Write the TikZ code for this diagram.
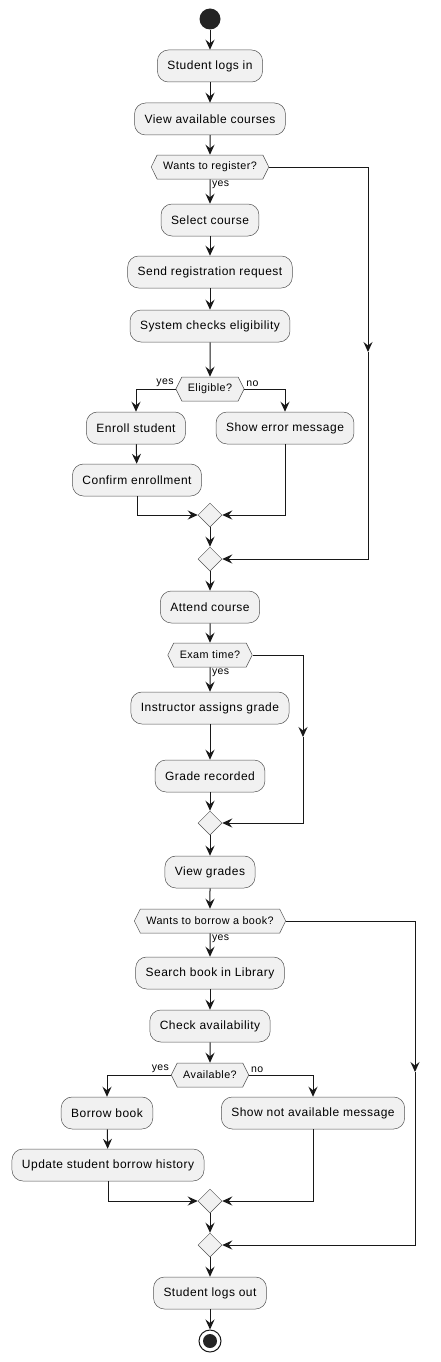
\documentclass[tikz,border=0pt]{standalone}
\usepackage{fontspec}
\setmainfont{Liberation Sans}[LetterSpace=4]
\usetikzlibrary{arrows.meta,shapes.geometric,shapes.symbols}
\definecolor{actfill}{HTML}{F1F1F1}
\definecolor{actline}{HTML}{181818}
\tikzset{
  action/.style={draw=actline!75, line width=0.5pt, fill=actfill, rounded corners=11pt,
    minimum height=32pt, inner xsep=10pt, font=\fontsize{12}{14}\selectfont},
  test/.style={draw=actline!75, line width=0.5pt, fill=actfill, shape=signal,
    signal to=west and east, signal pointer angle=127, minimum height=24pt,
    inner xsep=6pt, inner ysep=2pt, font=\fontsize{10.8}{12}\selectfont},
  merge/.style={draw=actline!75, line width=0.5pt, fill=actfill, diamond,
    minimum width=24pt, minimum height=24pt, inner sep=0pt},
  flow/.style={line width=1pt, draw=actline, -{Stealth[length=10pt,width=9pt,inset=3.5pt]}},
  guard/.style={font=\fontsize{10.5}{12}\selectfont, inner sep=1.5pt},
}

\begin{document}
\begin{tikzpicture}[x=1pt,y=-1pt]
  \useasboundingbox (0,0) rectangle (441,1362);

  \node [circle, fill=actline!95, minimum size=21pt, inner sep=0pt] (start) at (210,19) {};

  \node [action] (login)   at (210,66)  {Student logs in};
  \node [action] (courses) at (210,119) {View available courses};
  \node [test]   (reg)     at (210,167) {Wants to register?};
  \node [action] (select)  at (210,220) {Select course};
  \node [action] (send)    at (210,272) {Send registration request};
  \node [action] (check)   at (210,326) {System checks eligibility};
  \node [test]   (elig)    at (210,389) {Eligible?};
  \node [action] (enroll)  at (136,428) {Enroll student};
  \node [action] (confirm) at (137,480) {Confirm enrollment};
  \node [action] (error)   at (285,428) {Show error message};
  \node [merge]  (m1)      at (210,515) {};
  \node [merge]  (m2)      at (210,559) {};

  \node [action] (attend)  at (210,607) {Attend course};
  \node [test]   (exam)    at (210,655) {Exam time?};
  \node [action] (assign)  at (210,708) {Instructor assigns grade};
  \node [action] (record)  at (210,776) {Grade recorded};
  \node [merge]  (m3)      at (210,823) {};

  \node [action] (grades)  at (210,872)  {View grades};
  \node [test]   (borrowq) at (210,921)  {Wants to borrow a book?};
  \node [action] (search)  at (210,973)  {Search book in Library};
  \node [action] (avail)   at (210,1026) {Check availability};
  \node [test]   (availq)  at (210,1075) {Available?};
  \node [action] (borrow)  at (107,1113) {Borrow book};
  \node [action] (history) at (108,1165) {Update student borrow history};
  \node [action] (notav)   at (313,1113) {Show not available message};
  \node [merge]  (m4)      at (210,1201) {};
  \node [merge]  (m5)      at (210,1245) {};
  \node [action] (logout)  at (210,1293) {Student logs out};

  \node [circle, draw=actline, line width=1pt, fill=white, minimum size=22pt, inner sep=0pt] (stop) at (210,1341) {};
  \node [circle, fill=actline!95, minimum size=14pt, inner sep=0pt] (stopdot) at (stop) {};

  % skip lanes on the right
  \coordinate (skip1) at (368,167);  \coordinate (skip1mid) at (368,352);
  \coordinate (skip2) at (303,655);  \coordinate (skip2mid) at (303,737);
  \coordinate (skip3) at (415,921);  \coordinate (skip3mid) at (415,1072);

  \foreach \a/\b in {start/login, login/courses, courses/reg, select/send, send/check,
    check/elig, enroll/confirm, m1/m2, m2/attend, attend/exam, assign/record, record/m3,
    m3/grades, grades/borrowq, search/avail, avail/availq, borrow/history, m4/m5,
    m5/logout, logout/stop}
  {
    \draw [flow] (\a) -- (\b);
  }

  \draw [flow] (reg) -- node [guard, anchor=north west, pos=0] {yes} (select);
  \draw [flow] (exam) -- node [guard, anchor=north west, pos=0] {yes} (assign);
  \draw [flow] (borrowq) -- node [guard, anchor=north west, pos=0] {yes} (search);

  \draw [flow] (elig.west) -| node [guard, anchor=south east, pos=0] {yes} (enroll);
  \draw [flow] (elig.east) -| node [guard, anchor=south west, pos=0] {no} (error);
  \draw [flow] (confirm) |- (m1.west);
  \draw [flow] (error) |- (m1.east);

  \draw [flow] (availq.west) -| node [guard, anchor=south east, pos=0] {yes} (borrow);
  \draw [flow] (availq.east) -| node [guard, anchor=south west, pos=0] {no} (notav);
  \draw [flow] (history) |- (m4.west);
  \draw [flow] (notav) |- (m4.east);

  \draw [flow] (reg.east) -- (skip1) -- (skip1mid);
  \draw [flow] (skip1mid) |- (m2.east);
  \draw [flow] (exam.east) -- (skip2) -- (skip2mid);
  \draw [flow] (skip2mid) |- (m3.east);
  \draw [flow] (borrowq.east) -- (skip3) -- (skip3mid);
  \draw [flow] (skip3mid) |- (m5.east);

\end{tikzpicture}
\end{document}
